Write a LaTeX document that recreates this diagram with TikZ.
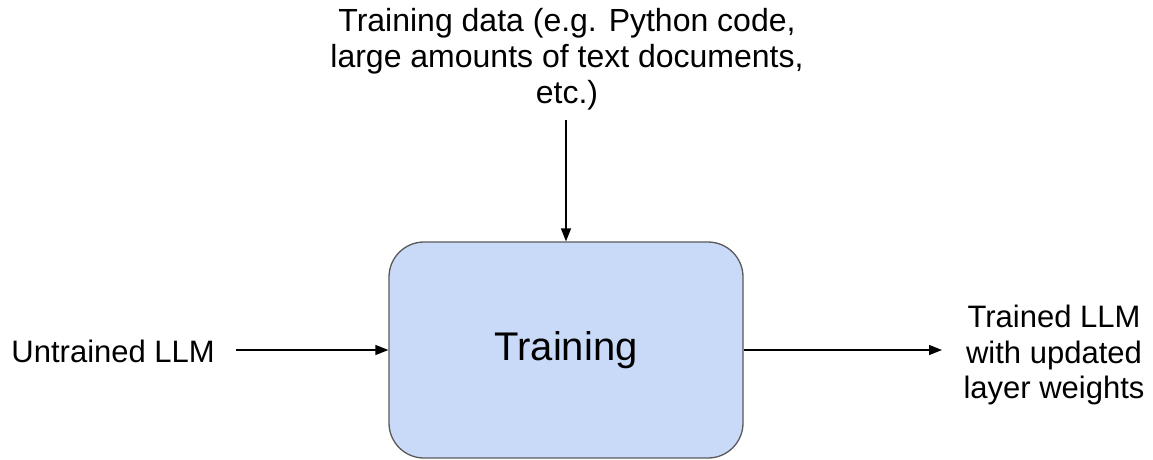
\documentclass[tikz,border=0pt]{standalone}
\usepackage{fontspec}
\setmainfont{Liberation Sans}
\usetikzlibrary{arrows.meta}
\definecolor{boxfill}{HTML}{C9DAF8}
\definecolor{boxline}{HTML}{595959}
\begin{document}
\begin{tikzpicture}[x=1pt,y=-1pt,
  lbl/.style={font=\fontsize{31}{35.5}\selectfont, inner sep=0pt, align=center},
  proc/.style={draw=boxline, fill=boxfill, line width=1.3pt, rounded corners=35pt,
    minimum width=354pt, minimum height=216pt, font=\fontsize{40}{46}\selectfont},
  arr/.style={-{Triangle[length=13pt,width=10pt]}, line width=1.3pt, black}]
\useasboundingbox (0,0) rectangle (1153,459);
\node[proc] (box) at (566,350) {Training};
\node[lbl, anchor=south, font=\fontsize{32}{36}\selectfont] (data) at (567,110) {Training data (e.g. Python code,\\large amounts of text documents,\\etc.)};
\node[lbl, anchor=east] (untrained) at (215,351) {Untrained LLM};
\node[lbl] (trained) at (1054,355) {Trained LLM\\with updated\\layer weights};
\coordinate (dstart) at (566,120);
\coordinate (ustart) at (236,350);
\coordinate (tend) at (942,350);
\draw[arr] (dstart) -- (box.north);
\draw[arr] (ustart) -- (box.west);
\draw[arr] (box.east) -- (tend);
\end{tikzpicture}
\end{document}
